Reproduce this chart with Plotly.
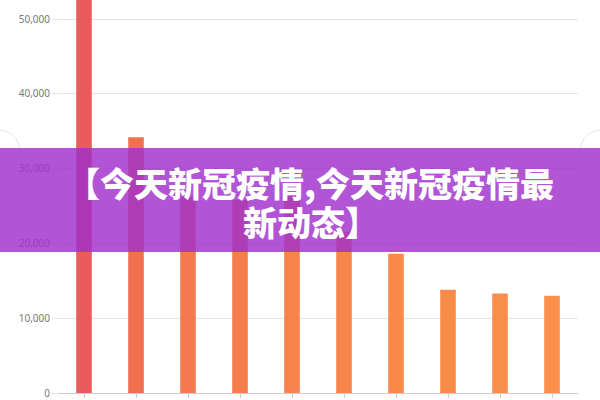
import plotly.graph_objects as go

# ---- data ----
categories = ["1", "2", "3", "4", "5", "6", "7", "8", "9", "10"]
cases = [60000, 34200, 26200, 25800, 26600, 21600, 18600, 13800, 13300, 13000]
y_ticks = [0, 10000, 20000, 30000, 40000, 50000]
y_tick_labels = ["0", "10,000", "20,000", "30,000", "40,000", "50,000"]
title_line1 = "【今天新冠疫情,今天新冠疫情最"
title_line2 = "新动态】"

# ---- styles ----
bar_colors = ["#ec5b5b", "#f0704f", "#f4794e", "#f57e4d", "#f6824c",
              "#f7864c", "#f8894b", "#f98c4b", "#f98e4b", "#fa904b"]

W, H = 600, 400
ml, mr, mt, mb = 58, 22, 0, 7
pw, ph = W - ml - mr, H - mt - mb

def px_x(x):
    return (x - ml) / pw

def px_y(y):
    return (H - mb - y) / ph

fig = go.Figure()
fig.add_trace(go.Bar(
    x=categories, y=cases,
    marker=dict(color=bar_colors, line=dict(width=0)),
    width=0.3,
    hoverinfo="skip",
))

title_font = dict(family="Noto Sans CJK SC", size=34, color="white", weight=900)

fig.update_layout(
    width=W, height=H,
    margin=dict(l=ml, r=mr, t=mt, b=mb),
    paper_bgcolor="white", plot_bgcolor="white",
    showlegend=False,
    font=dict(family="Noto Sans, DejaVu Sans, sans-serif", size=10, color="#777777"),
    xaxis=dict(
        showticklabels=False, showgrid=False, zeroline=False,
        ticks="outside", ticklen=4, tickcolor="#cccccc",
        showline=True, linecolor="#cccccc", linewidth=1,
        fixedrange=True,
    ),
    yaxis=dict(
        range=[0, 52540],
        tickvals=y_ticks, ticktext=y_tick_labels,
        showgrid=True, gridcolor="#e3e3e3", gridwidth=1,
        zeroline=False, showline=False,
        ticks="outside", ticklen=5, tickcolor="#e3e3e3",
        tickfont=dict(size=10, color="#777777"),
        fixedrange=True,
    ),
    shapes=[
        dict(type="circle", xref="paper", yref="paper",
             x0=px_x(-22), x1=px_x(20), y0=px_y(172), y1=px_y(130),
             line=dict(color="#e6e6e6", width=1), fillcolor="rgba(255,255,255,0)"),
        dict(type="circle", xref="paper", yref="paper",
             x0=px_x(580), x1=px_x(622), y0=px_y(172), y1=px_y(130),
             line=dict(color="#e6e6e6", width=1), fillcolor="rgba(255,255,255,0)"),
        dict(type="rect", xref="paper", yref="paper",
             x0=px_x(0), x1=px_x(600), y0=px_y(252), y1=px_y(148),
             line=dict(width=0), fillcolor="rgba(160,48,205,0.82)", layer="above"),
    ],
    annotations=[
        dict(text=title_line1, xref="paper", yref="paper",
             x=px_x(310), y=px_y(182), xanchor="center", yanchor="middle",
             showarrow=False, font=title_font),
        dict(text=title_line2, xref="paper", yref="paper",
             x=px_x(311), y=px_y(221), xanchor="center", yanchor="middle",
             showarrow=False, font=title_font),
    ],
)

fig.write_html("out.html", config={"displayModeBar": False},
               post_script="document.body.style.margin='0';")
